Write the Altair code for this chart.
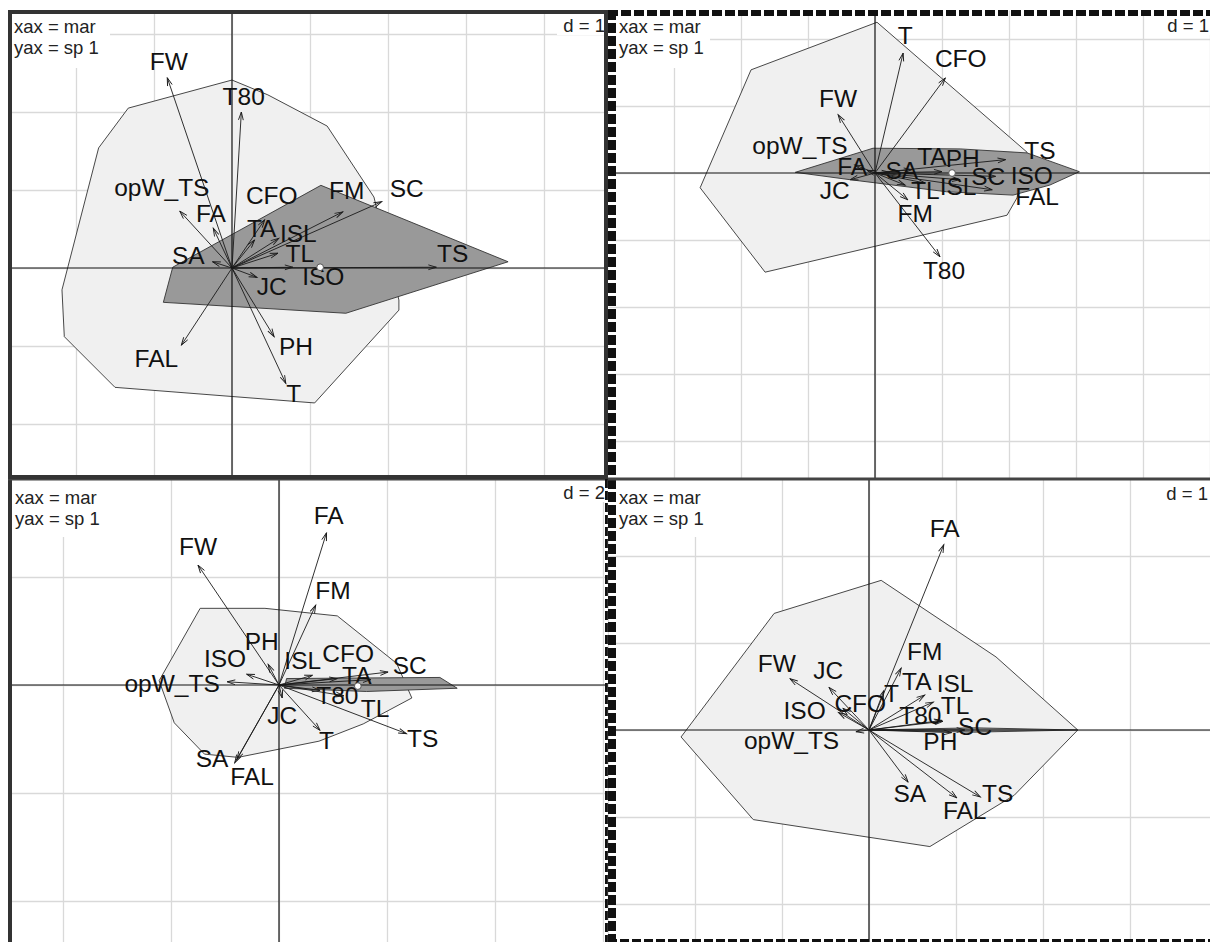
import math

import altair as alt
import pandas as pd

FONT = "Liberation Sans, Arial, Helvetica, sans-serif"
INK = "#1a1a1a"

# ---------------------------------------------------------------------------
# Panel 1 (top left): variable arrows, label anchors, hulls
# ---------------------------------------------------------------------------
p1_names = ["FW", "T80", "opW_TS", "FA", "SA", "CFO", "TA", "ISL", "FM",
            "SC", "TL", "ISO", "TS", "JC", "PH", "T", "FAL"]
p1_x = [-0.83, 0.12, -0.67, -0.24, -0.25, 0.42, 0.29, 0.60, 1.42,
        1.92, 0.59, 0.78, 2.62, 0.32, 0.54, 0.69, -0.65]
p1_y = [2.44, 2.00, 0.73, 0.51, 0.08, 0.62, 0.36, 0.38, 0.72,
        0.85, 0.19, 0.01, 0.01, -0.12, -0.88, -1.48, -0.99]
p1_lx = [-0.81, 0.15, -0.90, -0.27, -0.56, 0.51, 0.38, 0.85, 1.47,
         2.24, 0.87, 1.17, 2.83, 0.51, 0.82, 0.79, -0.97]
p1_ly = [2.63, 2.18, 1.01, 0.68, 0.14, 0.91, 0.49, 0.42, 0.97,
         1.00, 0.17, -0.13, 0.17, -0.26, -1.03, -1.63, -1.18]
p1_hull_x = [0.00, 0.46, 1.22, 1.82, 2.14, 2.14, 1.06, -1.50, -2.15, -2.18, -1.71, -1.33]
p1_hull_y = [2.41, 2.22, 1.82, 0.91, -0.41, -0.54, -1.73, -1.53, -0.88, -0.28, 1.54, 2.05]
p1_core_x = [1.14, 3.54, 1.46, -0.88, -0.76]
p1_core_y = [1.06, 0.08, -0.58, -0.44, 0.01]
p1_centre = [1.13, 0.01]
p1_xlim = [-2.872, 4.821]
p1_ylim = [-2.705, 3.308]

# ---------------------------------------------------------------------------
# Panel 2 (top right)
# ---------------------------------------------------------------------------
p2_names = ["T", "CFO", "FW", "opW_TS", "FA", "JC", "SA", "TA", "PH",
            "TL", "ISL", "FM", "T80", "SC", "ISO", "TS", "FAL"]
p2_x = [0.42, 1.05, -0.55, -0.30, -0.12, -0.37, 0.22, 0.55, 1.00,
        0.45, 0.75, 0.49, 0.97, 1.27, 1.80, 1.95, 1.75]
p2_y = [1.79, 1.42, 0.87, 0.12, 0.04, -0.10, 0.01, 0.05, 0.02,
        -0.18, -0.15, -0.40, -1.25, -0.10, -0.05, 0.20, -0.25]
p2_lx = [0.45, 1.28, -0.55, -1.12, -0.34, -0.60, 0.40, 0.85, 1.31,
         0.75, 1.24, 0.60, 1.03, 1.69, 2.34, 2.46, 2.42]
p2_ly = [2.03, 1.69, 1.09, 0.39, 0.07, -0.28, 0.01, 0.22, 0.19,
         -0.28, -0.22, -0.63, -1.48, -0.07, -0.06, 0.31, -0.37]
p2_hull_x = [0.03, 2.27, 2.12, 1.97, -1.64, -2.61, -1.85]
p2_hull_y = [2.25, 0.31, -0.37, -0.63, -1.48, -0.22, 1.54]
p2_core_x = [-1.19, -0.03, 1.27, 2.27, 3.05, 2.61, 2.06, 1.07, -0.37]
p2_core_y = [0.01, 0.37, 0.36, 0.30, 0.02, -0.18, -0.33, -0.28, -0.10]
p2_centre = [1.15, 0.00]
p2_xlim = [-3.985, 5.000]
p2_ylim = [-4.567, 2.433]

# ---------------------------------------------------------------------------
# Panel 3 (bottom left), grid step d = 2
# ---------------------------------------------------------------------------
p3_names = ["FA", "FW", "FM", "PH", "ISO", "opW_TS", "ISL", "CFO", "TA",
            "SC", "T80", "TL", "TS", "T", "JC", "SA", "FAL"]
p3_x = [0.88, -1.50, 0.68, -0.20, -0.60, -0.96, 0.62, 1.08, 1.70,
        2.02, 0.76, 1.20, 2.36, 0.76, 0.06, -0.82, -0.78]
p3_y = [2.82, 2.22, 1.48, 0.38, 0.20, 0.06, 0.18, 0.12, 0.10,
        0.24, -0.10, -0.20, -0.90, -0.84, -0.24, -1.44, -1.38]
p3_lx = [0.92, -1.50, 1.00, -0.32, -1.00, -1.98, 0.44, 1.28, 1.44,
         2.42, 1.08, 1.78, 2.66, 0.88, 0.06, -1.24, -0.50]
p3_ly = [3.12, 2.54, 1.72, 0.78, 0.46, 0.00, 0.42, 0.56, 0.14,
         0.34, -0.22, -0.46, -1.02, -1.06, -0.60, -1.38, -1.72]
p3_hull_x = [-1.46, -0.26, 1.08, 2.18, 2.46, 1.56, 0.74, -0.76, -1.38, -1.94, -2.22]
p3_hull_y = [1.42, 1.42, 1.28, 0.40, -0.24, -0.72, -1.04, -1.34, -1.28, -0.70, 0.08]
p3_core_x = [0.14, 2.98, 3.30, 1.62, 0.10]
p3_core_y = [0.12, 0.14, -0.06, -0.12, -0.06]
p3_centre = [1.46, -0.02]
p3_xlim = [-5.019, 6.093]
p3_ylim = [-4.759, 3.815]

# ---------------------------------------------------------------------------
# Panel 4 (bottom right)
# ---------------------------------------------------------------------------
p4_names = ["FA", "FM", "T", "TA", "ISL", "TL", "T80", "SC", "PH",
            "FW", "JC", "CFO", "ISO", "opW_TS", "SA", "FAL", "TS"]
p4_x = [0.86, 0.37, 0.17, 0.64, 0.74, 0.84, 0.85, 1.10, 0.95,
        -0.91, -0.46, -0.30, -0.35, -0.15, 0.45, 1.01, 1.28]
p4_y = [2.13, 0.71, 0.45, 0.40, 0.32, 0.11, 0.10, 0.00, -0.03,
        0.59, 0.49, 0.25, 0.20, -0.02, -0.60, -0.78, -0.77]
p4_lx = [0.87, 0.64, 0.26, 0.55, 0.99, 0.99, 0.59, 1.22, 0.82,
         -1.06, -0.47, -0.10, -0.74, -0.89, 0.47, 1.10, 1.48]
p4_ly = [2.30, 0.89, 0.40, 0.54, 0.52, 0.26, 0.15, 0.02, -0.15,
         0.75, 0.67, 0.29, 0.21, -0.14, -0.75, -0.94, -0.75]
p4_hull_x = [0.14, 1.46, 2.40, 1.67, 0.70, -1.33, -2.16, -1.09]
p4_hull_y = [1.72, 0.84, 0.00, -0.75, -1.34, -1.03, -0.08, 1.34]
p4_core_x = [0.00, 1.20, 2.40, 1.20]
p4_core_y = [0.00, 0.025, 0.00, -0.025]
p4_centre = None
p4_xlim = [-3.000, 3.920]
p4_ylim = [-2.437, 2.885]

caption = "xax = mar\nyax = sp 1"

# Panel frames: (side, colour, visible width, dash pattern)
SOLID = [("left", "#333333", 4, None), ("top", "#333333", 4, None),
         ("right", "#333333", 4, None), ("bottom", "#333333", 4, None)]
DASHED_TOP = [("left", "#111111", 8, [10, 3]), ("top", "#111111", 6, [10, 3]),
              ("bottom", "#444444", 1.5, None)]
SOLID_BOTTOM = [("left", "#333333", 4, None), ("top", "#444444", 1.5, None),
                ("right", "#111111", 3, [9, 3])]
DASHED_BOTTOM = [("left", "#111111", 8, [10, 3]), ("top", "#444444", 1.5, None),
                 ("bottom", "#111111", 3, [9, 3])]


def ring(xs, ys):
    """Closed polygon outline as an ordered table."""
    df = pd.DataFrame({"x": list(xs) + [xs[0]], "y": list(ys) + [ys[0]]})
    df["i"] = range(len(df))
    return df


def frame_rules(one, sides, width, height):
    out = []
    for side, colour, vis, dash in sides:
        kw = dict(clip=True, color=colour, strokeWidth=2 * vis)
        if dash:
            kw["strokeDash"] = dash
        if side in ("left", "right"):
            xv = 0 if side == "left" else width
            enc = dict(x=alt.value(xv), y=alt.value(0), y2=alt.value(height))
        else:
            yv = 0 if side == "top" else height
            enc = dict(y=alt.value(yv), x=alt.value(0), x2=alt.value(width))
        out.append(alt.Chart(one).mark_rule(**kw).encode(**enc))
    return out


def panel(names, ax, ay, lx, ly, hx, hy, cx, cy, centre,
          xlim, ylim, step, width, height, sides, cap_x, cap_base, d_right, d_base):
    arrows = pd.DataFrame({"name": names, "x": ax, "y": ay, "lx": lx, "ly": ly})
    arrows["x0"] = 0.0
    arrows["y0"] = 0.0

    xs = alt.Scale(domain=xlim, nice=False, zero=False)
    ys = alt.Scale(domain=ylim, nice=False, zero=False)

    def grid_axis(lim):
        lo = math.ceil(lim[0] / step)
        hi = math.floor(lim[1] / step)
        return alt.Axis(values=[k * step for k in range(lo, hi + 1)], grid=True,
                        gridColor="#d9d9d9", gridWidth=1.3, labels=False,
                        ticks=False, domain=False, title=None,
                        minExtent=0, maxExtent=0, offset=0)

    gx = grid_axis(xlim)
    gy = grid_axis(ylim)

    def X(field):
        return alt.X(field, type="quantitative", scale=xs, axis=gx)

    def Y(field):
        return alt.Y(field, type="quantitative", scale=ys, axis=gy)

    one = pd.DataFrame({"v": [0.0], "cap": [caption], "d": [f"d = {step}"]})
    cap_size = 18.5
    top_shift = 0.79 * cap_size  # distance from a "top" anchor to the baseline

    boxes = alt.Chart(one).mark_rect(fill="white", clip=True).encode(
        x=alt.value(0), x2=alt.value(102), y=alt.value(0), y2=alt.value(58))
    dbox = alt.Chart(one).mark_rect(fill="white", clip=True).encode(
        x=alt.value(d_right - 48), x2=alt.value(width), y=alt.value(0),
        y2=alt.value(d_base + 3))

    hull = alt.Chart(ring(hx, hy)).mark_line(
        fill="#f0f0f0", stroke="#333333", strokeWidth=0.9, clip=True
    ).encode(x=X("x"), y=Y("y"), order="i:Q")
    core = alt.Chart(ring(cx, cy)).mark_line(
        fill="#999999", stroke="#333333", strokeWidth=0.9, clip=True
    ).encode(x=X("x"), y=Y("y"), order="i:Q")

    vaxis = alt.Chart(one).mark_rule(color="#111111", strokeWidth=1.2, clip=True).encode(x=X("v"))
    haxis = alt.Chart(one).mark_rule(color="#111111", strokeWidth=1.2, clip=True).encode(y=Y("v"))

    base = alt.Chart(arrows)
    shafts = base.mark_rule(color=INK, strokeWidth=0.9, clip=True).encode(
        x=X("x0"), y=Y("y0"), x2="x", y2="y")
    heads = base.transform_calculate(
        ang="(atan2(datum.x, datum.y) * 180 / PI + 360) % 360"
    ).mark_point(
        shape="M-0.3,1L0,0L0.3,1", filled=False, color=INK, size=256,
        strokeWidth=0.9, opacity=1, clip=True
    ).encode(x=X("x"), y=Y("y"), angle=alt.Angle("ang:Q", scale=None))
    labels = base.mark_text(font=FONT, fontSize=24.5, color="#111111", clip=True).encode(
        x=X("lx"), y=Y("ly"), text="name:N")

    cap = alt.Chart(one).mark_text(
        align="left", baseline="top", font=FONT, fontSize=cap_size, lineHeight=20.5,
        lineBreak="\n", color="#222222", clip=True
    ).encode(x=alt.value(cap_x), y=alt.value(cap_base - top_shift), text="cap:N")
    dtext = alt.Chart(one).mark_text(
        align="right", baseline="top", font=FONT, fontSize=cap_size, color="#222222",
        clip=True
    ).encode(x=alt.value(d_right), y=alt.value(d_base - top_shift), text="d:N")

    layers = [boxes, dbox, hull, core, vaxis, haxis, shafts, heads, labels]
    if centre is not None:
        cdf = pd.DataFrame({"x": [centre[0]], "y": [centre[1]]})
        layers.append(alt.Chart(cdf).mark_point(
            filled=True, fill="white", stroke="#555555", strokeWidth=1,
            size=45, opacity=1, clip=True).encode(x=X("x"), y=Y("y")))
    layers += [cap, dtext]
    layers += frame_rules(one, sides, width, height)

    return alt.layer(*layers).properties(width=width, height=height)


p1 = panel(p1_names, p1_x, p1_y, p1_lx, p1_ly, p1_hull_x, p1_hull_y,
           p1_core_x, p1_core_y, p1_centre, p1_xlim, p1_ylim, 1, 600, 469,
           SOLID, cap_x=6, cap_base=23, d_right=597, d_base=22)
p2 = panel(p2_names, p2_x, p2_y, p2_lx, p2_ly, p2_hull_x, p2_hull_y,
           p2_core_x, p2_core_y, p2_centre, p2_xlim, p2_ylim, 1, 602, 469,
           DASHED_TOP, cap_x=11, cap_base=23, d_right=601, d_base=22)
p3 = panel(p3_names, p3_x, p3_y, p3_lx, p3_ly, p3_hull_x, p3_hull_y,
           p3_core_x, p3_core_y, p3_centre, p3_xlim, p3_ylim, 2, 600, 463,
           SOLID_BOTTOM, cap_x=7, cap_base=25, d_right=597, d_base=20)
p4 = panel(p4_names, p4_x, p4_y, p4_lx, p4_ly, p4_hull_x, p4_hull_y,
           p4_core_x, p4_core_y, p4_centre, p4_xlim, p4_ylim, 1, 602, 463,
           DASHED_BOTTOM, cap_x=11, cap_base=25, d_right=600, d_base=21)

# Two-by-two grid of panels, laid out on their plot areas only
chart = alt.concat(
    p1, p2, p3, p4,
    columns=2,
    spacing=alt.RowColnumber(row=0, column=0),
    bounds="flush",
).properties(
    padding={"left": 8, "top": 10, "right": 0, "bottom": 0},
    background="white",
).configure_view(strokeWidth=0)

chart.save("out.html", embed_options={"renderer": "svg", "actions": False})
